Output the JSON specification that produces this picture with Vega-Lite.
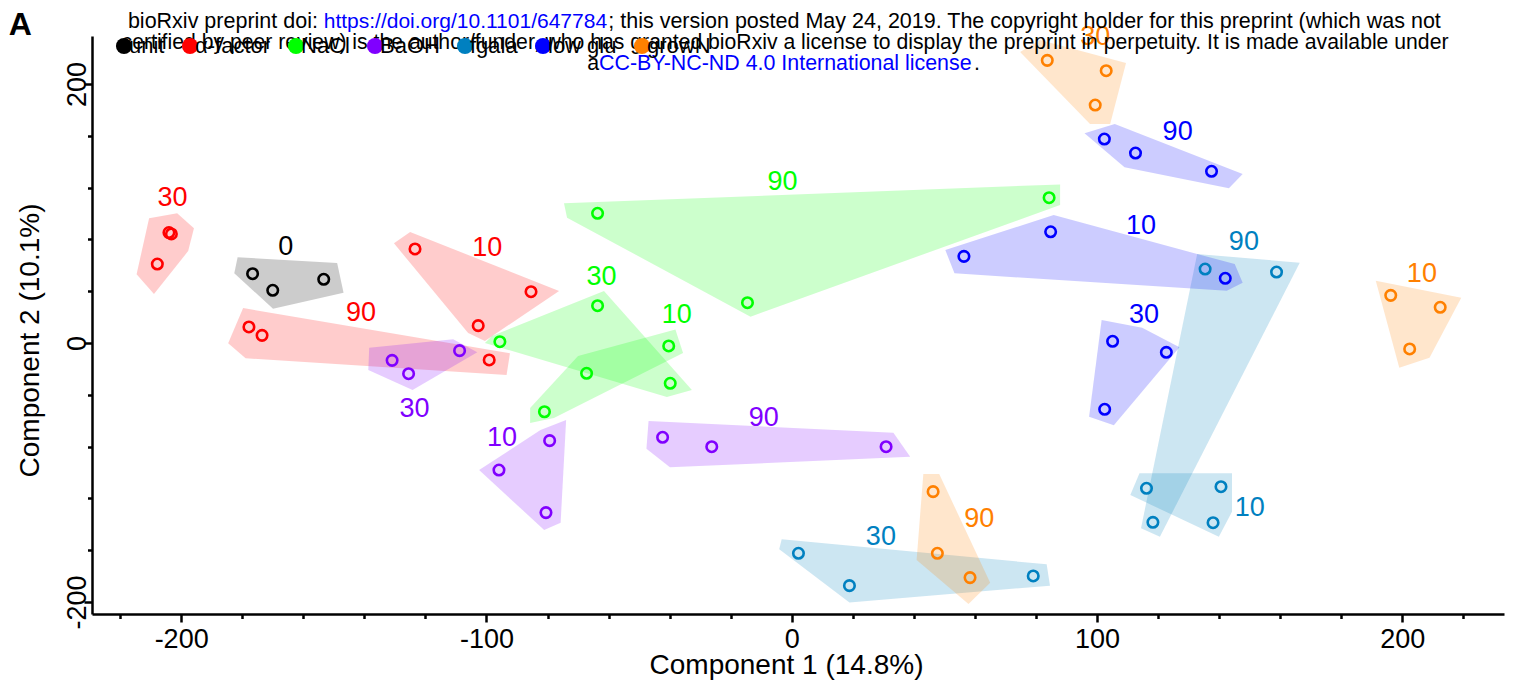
{
  "$schema": "https://vega.github.io/schema/vega-lite/v6.json",
  "autosize": "none",
  "width": 1412,
  "height": 578,
  "padding": {"left": 92, "top": 36, "right": 13, "bottom": 73},
  "background": "white",
  "config": {
    "view": {"stroke": null},
    "font": "Liberation Sans"
  },
  "datasets": {
    "points": [
      {"g": "unit", "t": "0", "x": -176.6, "y": 53.5},
      {"g": "unit", "t": "0", "x": -170.0, "y": 40.7},
      {"g": "unit", "t": "0", "x": -153.3, "y": 49.2},
      {"g": "α-factor", "t": "30", "x": -204.0, "y": 85.3},
      {"g": "α-factor", "t": "30", "x": -203.2, "y": 84.2},
      {"g": "α-factor", "t": "30", "x": -207.8, "y": 61.0},
      {"g": "α-factor", "t": "10", "x": -123.4, "y": 72.6},
      {"g": "α-factor", "t": "10", "x": -85.4, "y": 39.6},
      {"g": "α-factor", "t": "10", "x": -102.7, "y": 13.4},
      {"g": "α-factor", "t": "90", "x": -177.8, "y": 12.4},
      {"g": "α-factor", "t": "90", "x": -173.5, "y": 5.9},
      {"g": "α-factor", "t": "90", "x": -99.1, "y": -13.1},
      {"g": "NaCl", "t": "30", "x": -63.6, "y": 28.8},
      {"g": "NaCl", "t": "30", "x": -95.6, "y": 1.0},
      {"g": "NaCl", "t": "30", "x": -39.8, "y": -31.1},
      {"g": "NaCl", "t": "10", "x": -40.3, "y": -2.3},
      {"g": "NaCl", "t": "10", "x": -67.2, "y": -23.4},
      {"g": "NaCl", "t": "10", "x": -81.0, "y": -53.1},
      {"g": "NaCl", "t": "90", "x": -63.6, "y": 100.2},
      {"g": "NaCl", "t": "90", "x": -14.5, "y": 31.1},
      {"g": "NaCl", "t": "90", "x": 84.3, "y": 112.2},
      {"g": "BaOH", "t": "30", "x": -130.9, "y": -13.4},
      {"g": "BaOH", "t": "30", "x": -125.5, "y": -23.7},
      {"g": "BaOH", "t": "30", "x": -108.8, "y": -5.9},
      {"g": "BaOH", "t": "10", "x": -79.3, "y": -75.4},
      {"g": "BaOH", "t": "10", "x": -95.9, "y": -98.1},
      {"g": "BaOH", "t": "10", "x": -80.5, "y": -131.0},
      {"g": "BaOH", "t": "90", "x": -42.3, "y": -72.8},
      {"g": "BaOH", "t": "90", "x": -26.2, "y": -80.1},
      {"g": "BaOH", "t": "90", "x": 30.9, "y": -80.1},
      {"g": "fgala", "t": "30", "x": 2.2, "y": -162.4},
      {"g": "fgala", "t": "30", "x": 18.9, "y": -187.4},
      {"g": "fgala", "t": "30", "x": 79.1, "y": -179.9},
      {"g": "fgala", "t": "10", "x": 116.2, "y": -112.2},
      {"g": "fgala", "t": "10", "x": 140.6, "y": -111.0},
      {"g": "fgala", "t": "10", "x": 138.0, "y": -138.8},
      {"g": "fgala", "t": "90", "x": 135.4, "y": 57.1},
      {"g": "fgala", "t": "90", "x": 158.8, "y": 54.8},
      {"g": "fgala", "t": "90", "x": 118.3, "y": -138.5},
      {"g": "low glu", "t": "10", "x": 84.8, "y": 85.9},
      {"g": "low glu", "t": "10", "x": 56.4, "y": 66.9},
      {"g": "low glu", "t": "10", "x": 142.0, "y": 50.0},
      {"g": "low glu", "t": "30", "x": 105.1, "y": 1.3},
      {"g": "low glu", "t": "30", "x": 122.7, "y": -7.2},
      {"g": "low glu", "t": "30", "x": 102.5, "y": -51.2},
      {"g": "low glu", "t": "90", "x": 102.4, "y": 157.5},
      {"g": "low glu", "t": "90", "x": 112.6, "y": 146.7},
      {"g": "low glu", "t": "90", "x": 137.5, "y": 132.6},
      {"g": "growN", "t": "10", "x": 196.2, "y": 36.8},
      {"g": "growN", "t": "10", "x": 212.4, "y": 27.6},
      {"g": "growN", "t": "10", "x": 202.4, "y": -4.6},
      {"g": "growN", "t": "30", "x": 83.7, "y": 218.3},
      {"g": "growN", "t": "30", "x": 103.0, "y": 210.3},
      {"g": "growN", "t": "30", "x": 99.4, "y": 183.8},
      {"g": "growN", "t": "90", "x": 46.3, "y": -114.8},
      {"g": "growN", "t": "90", "x": 47.7, "y": -162.4},
      {"g": "growN", "t": "90", "x": 58.4, "y": -181.2}
    ],
    "hulls": [
      {"g": "unit", "t": "0", "i": 0, "x": -181.5, "y": 66.2},
      {"g": "unit", "t": "0", "i": 1, "x": -148.9, "y": 61.8},
      {"g": "unit", "t": "0", "i": 2, "x": -146.8, "y": 38.8},
      {"g": "unit", "t": "0", "i": 3, "x": -169.9, "y": 26.5},
      {"g": "unit", "t": "0", "i": 4, "x": -182.6, "y": 53.8},
      {"g": "α-factor", "t": "30", "i": 0, "x": -210.5, "y": 96.3},
      {"g": "α-factor", "t": "30", "i": 1, "x": -201.3, "y": 100.2},
      {"g": "α-factor", "t": "30", "i": 2, "x": -195.8, "y": 88.6},
      {"g": "α-factor", "t": "30", "i": 3, "x": -197.7, "y": 71.0},
      {"g": "α-factor", "t": "30", "i": 4, "x": -208.9, "y": 37.8},
      {"g": "α-factor", "t": "30", "i": 5, "x": -214.6, "y": 53.1},
      {"g": "α-factor", "t": "10", "i": 0, "x": -130.3, "y": 77.0},
      {"g": "α-factor", "t": "10", "i": 1, "x": -125.0, "y": 85.7},
      {"g": "α-factor", "t": "10", "i": 2, "x": -76.2, "y": 40.2},
      {"g": "α-factor", "t": "10", "i": 3, "x": -100.5, "y": 1.5},
      {"g": "α-factor", "t": "10", "i": 4, "x": -106.0, "y": 7.7},
      {"g": "α-factor", "t": "90", "i": 0, "x": -179.7, "y": 27.0},
      {"g": "α-factor", "t": "90", "i": 1, "x": -92.3, "y": -8.0},
      {"g": "α-factor", "t": "90", "i": 2, "x": -93.4, "y": -24.7},
      {"g": "α-factor", "t": "90", "i": 3, "x": -178.9, "y": -11.8},
      {"g": "α-factor", "t": "90", "i": 4, "x": -184.6, "y": -0.2},
      {"g": "NaCl", "t": "30", "i": 0, "x": -61.5, "y": 40.2},
      {"g": "NaCl", "t": "30", "i": 1, "x": -32.7, "y": -36.3},
      {"g": "NaCl", "t": "30", "i": 2, "x": -40.9, "y": -41.7},
      {"g": "NaCl", "t": "30", "i": 3, "x": -100.5, "y": 0.0},
      {"g": "NaCl", "t": "30", "i": 4, "x": -98.2, "y": 5.4},
      {"g": "NaCl", "t": "10", "i": 0, "x": -38.1, "y": 10.4},
      {"g": "NaCl", "t": "10", "i": 1, "x": -35.6, "y": -7.7},
      {"g": "NaCl", "t": "10", "i": 2, "x": -77.9, "y": -57.9},
      {"g": "NaCl", "t": "10", "i": 3, "x": -85.7, "y": -61.8},
      {"g": "NaCl", "t": "10", "i": 4, "x": -85.7, "y": -50.2},
      {"g": "NaCl", "t": "10", "i": 5, "x": -70.0, "y": -10.0},
      {"g": "NaCl", "t": "90", "i": 0, "x": -74.6, "y": 107.9},
      {"g": "NaCl", "t": "90", "i": 1, "x": 87.9, "y": 122.5},
      {"g": "NaCl", "t": "90", "i": 2, "x": 87.9, "y": 106.6},
      {"g": "NaCl", "t": "90", "i": 3, "x": -13.5, "y": 20.3},
      {"g": "NaCl", "t": "90", "i": 4, "x": -73.6, "y": 96.8},
      {"g": "BaOH", "t": "30", "i": 0, "x": -138.4, "y": -3.6},
      {"g": "BaOH", "t": "30", "i": 1, "x": -110.9, "y": 2.9},
      {"g": "BaOH", "t": "30", "i": 2, "x": -103.0, "y": -7.2},
      {"g": "BaOH", "t": "30", "i": 3, "x": -124.2, "y": -36.3},
      {"g": "BaOH", "t": "30", "i": 4, "x": -138.7, "y": -20.8},
      {"g": "BaOH", "t": "10", "i": 0, "x": -73.9, "y": -59.5},
      {"g": "BaOH", "t": "10", "i": 1, "x": -75.7, "y": -138.8},
      {"g": "BaOH", "t": "10", "i": 2, "x": -81.1, "y": -144.4},
      {"g": "BaOH", "t": "10", "i": 3, "x": -102.4, "y": -98.1},
      {"g": "BaOH", "t": "10", "i": 4, "x": -82.3, "y": -67.2},
      {"g": "BaOH", "t": "90", "i": 0, "x": -46.9, "y": -60.2},
      {"g": "BaOH", "t": "90", "i": 1, "x": 33.3, "y": -69.3},
      {"g": "BaOH", "t": "90", "i": 2, "x": 38.8, "y": -87.8},
      {"g": "BaOH", "t": "90", "i": 3, "x": -39.9, "y": -96.0},
      {"g": "BaOH", "t": "90", "i": 4, "x": -47.6, "y": -81.6},
      {"g": "fgala", "t": "30", "i": 0, "x": -3.3, "y": -151.6},
      {"g": "fgala", "t": "30", "i": 1, "x": 83.5, "y": -170.9},
      {"g": "fgala", "t": "30", "i": 2, "x": 84.6, "y": -187.4},
      {"g": "fgala", "t": "30", "i": 3, "x": 18.9, "y": -200.5},
      {"g": "fgala", "t": "30", "i": 4, "x": -4.1, "y": -159.3},
      {"g": "fgala", "t": "10", "i": 0, "x": 113.9, "y": -100.6},
      {"g": "fgala", "t": "10", "i": 1, "x": 144.2, "y": -100.6},
      {"g": "fgala", "t": "10", "i": 2, "x": 144.2, "y": -130.3},
      {"g": "fgala", "t": "10", "i": 3, "x": 139.9, "y": -149.6},
      {"g": "fgala", "t": "10", "i": 4, "x": 110.9, "y": -117.4},
      {"g": "fgala", "t": "90", "i": 0, "x": 132.8, "y": 68.7},
      {"g": "fgala", "t": "90", "i": 1, "x": 166.4, "y": 62.0},
      {"g": "fgala", "t": "90", "i": 2, "x": 120.6, "y": -149.6},
      {"g": "fgala", "t": "90", "i": 3, "x": 114.4, "y": -143.1},
      {"g": "low glu", "t": "10", "i": 0, "x": 85.8, "y": 98.8},
      {"g": "low glu", "t": "10", "i": 1, "x": 132.8, "y": 68.7},
      {"g": "low glu", "t": "10", "i": 2, "x": 145.1, "y": 61.0},
      {"g": "low glu", "t": "10", "i": 3, "x": 147.7, "y": 46.6},
      {"g": "low glu", "t": "10", "i": 4, "x": 142.5, "y": 40.4},
      {"g": "low glu", "t": "10", "i": 5, "x": 53.3, "y": 53.8},
      {"g": "low glu", "t": "10", "i": 6, "x": 50.3, "y": 71.8},
      {"g": "low glu", "t": "30", "i": 0, "x": 101.5, "y": 17.8},
      {"g": "low glu", "t": "30", "i": 1, "x": 114.8, "y": 11.8},
      {"g": "low glu", "t": "30", "i": 2, "x": 127.0, "y": -3.3},
      {"g": "low glu", "t": "30", "i": 3, "x": 105.5, "y": -63.6},
      {"g": "low glu", "t": "30", "i": 4, "x": 97.4, "y": -56.9},
      {"g": "low glu", "t": "90", "i": 0, "x": 105.8, "y": 169.1},
      {"g": "low glu", "t": "90", "i": 1, "x": 147.7, "y": 130.5},
      {"g": "low glu", "t": "90", "i": 2, "x": 143.2, "y": 119.5},
      {"g": "low glu", "t": "90", "i": 3, "x": 109.0, "y": 135.7},
      {"g": "low glu", "t": "90", "i": 4, "x": 95.9, "y": 161.9},
      {"g": "growN", "t": "10", "i": 0, "x": 191.3, "y": 48.1},
      {"g": "growN", "t": "10", "i": 1, "x": 219.3, "y": 35.0},
      {"g": "growN", "t": "10", "i": 2, "x": 208.9, "y": -11.4},
      {"g": "growN", "t": "10", "i": 3, "x": 199.0, "y": -19.1},
      {"g": "growN", "t": "30", "i": 0, "x": 74.8, "y": 224.7},
      {"g": "growN", "t": "30", "i": 1, "x": 81.3, "y": 234.0},
      {"g": "growN", "t": "30", "i": 2, "x": 109.5, "y": 216.2},
      {"g": "growN", "t": "30", "i": 3, "x": 104.3, "y": 169.1},
      {"g": "growN", "t": "30", "i": 4, "x": 97.7, "y": 169.1},
      {"g": "growN", "t": "90", "i": 0, "x": 43.1, "y": -101.2},
      {"g": "growN", "t": "90", "i": 1, "x": 48.3, "y": -101.2},
      {"g": "growN", "t": "90", "i": 2, "x": 65.0, "y": -185.1},
      {"g": "growN", "t": "90", "i": 3, "x": 57.9, "y": -201.5},
      {"g": "growN", "t": "90", "i": 4, "x": 40.9, "y": -167.6}
    ],
    "labels": [
      {"g": "unit", "t": "0", "x": -165.7, "y": 74.5},
      {"g": "α-factor", "t": "30", "x": -202.8, "y": 112.3},
      {"g": "α-factor", "t": "10", "x": -99.7, "y": 73.7},
      {"g": "α-factor", "t": "90", "x": -141.1, "y": 23.5},
      {"g": "NaCl", "t": "30", "x": -62.3, "y": 51.3},
      {"g": "NaCl", "t": "10", "x": -37.7, "y": 21.7},
      {"g": "NaCl", "t": "90", "x": -3.0, "y": 124.1},
      {"g": "BaOH", "t": "30", "x": -123.6, "y": -50.9},
      {"g": "BaOH", "t": "10", "x": -94.9, "y": -73.0},
      {"g": "BaOH", "t": "90", "x": -9.2, "y": -57.6},
      {"g": "fgala", "t": "30", "x": 29.2, "y": -149.5},
      {"g": "fgala", "t": "10", "x": 150.0, "y": -127.6},
      {"g": "fgala", "t": "90", "x": 148.1, "y": 78.3},
      {"g": "low glu", "t": "10", "x": 114.4, "y": 90.7},
      {"g": "low glu", "t": "30", "x": 115.4, "y": 21.7},
      {"g": "low glu", "t": "90", "x": 126.4, "y": 163.3},
      {"g": "growN", "t": "10", "x": 206.4, "y": 53.1},
      {"g": "growN", "t": "30", "x": 99.4, "y": 236.6},
      {"g": "growN", "t": "90", "x": 61.4, "y": -135.8}
    ],
    "one": [{}]
  },
  "layer": [
    {
      "data": {"name": "hulls"},
      "mark": {"type": "line", "interpolate": "linear-closed", "strokeWidth": 0, "fillOpacity": 0.2},
      "encoding": {
        "x": {"field": "x", "type": "quantitative"},
        "y": {"field": "y", "type": "quantitative"},
        "fill": {
          "field": "g",
          "type": "nominal",
          "scale": {
            "domain": ["unit", "α-factor", "NaCl", "BaOH", "fgala", "low glu", "growN"],
            "range": ["#000000", "#FF0000", "#00FF00", "#8000FF", "#0080C0", "#0000FF", "#FF8000"]
          },
          "legend": {
            "orient": "none",
            "legendX": 21,
            "legendY": -1,
            "direction": "horizontal",
            "title": null,
            "symbolType": "circle",
            "symbolSize": 260,
            "symbolOpacity": 1,
            "symbolStrokeWidth": 0,
            "labelFont": "Liberation Sans",
            "labelFontSize": 22,
            "labelColor": "black",
            "labelOffset": -6,
            "columnPadding": 14
          }
        },
        "detail": {"field": "t"},
        "order": {"field": "i", "type": "quantitative"}
      }
    },
    {
      "data": {"name": "points"},
      "mark": {"type": "point", "shape": "circle", "filled": false, "size": 110, "strokeWidth": 2.6, "opacity": 1},
      "encoding": {
        "x": {
          "field": "x",
          "type": "quantitative",
          "scale": {"domain": [-229.2, 233.3], "nice": false, "zero": false},
          "axis": {
            "title": "Component 1 (14.8%)",
            "values": [-220, -210, -200, -190, -180, -170, -160, -150, -140, -130, -120, -110, -100, -90, -80, -70, -60, -50, -40, -30, -20, -10, 0, 10, 20, 30, 40, 50, 60, 70, 80, 90, 100, 110, 120, 130, 140, 150, 160, 170, 180, 190, 200, 210, 220, 230],
            "labelExpr": "datum.value % 50 === 0 ? '' + datum.value : ''",
            "grid": false,
            "domainColor": "black",
            "domainWidth": 2.5,
            "tickColor": "black",
            "tickWidth": 2.5,
            "tickSize": {"condition": {"test": "datum.value % 50 === 0", "value": 8}, "value": 4.5},
            "labelFont": "Liberation Sans",
            "labelFontSize": 27,
            "labelColor": "black",
            "labelBaseline": "alphabetic",
            "labelPadding": 25,
            "labelOverlap": false,
            "labelFlush": false,
            "titleFont": "Liberation Sans",
            "titleFontSize": 28,
            "titleFontWeight": "normal",
            "titleColor": "black",
            "titleBaseline": "alphabetic",
            "titleAlign": "center",
            "titleX": 694,
            "titleY": 59
          }
        },
        "y": {
          "field": "y",
          "type": "quantitative",
          "scale": {"domain": [-209.3, 237.1], "nice": false, "zero": false},
          "axis": {
            "title": "Component 2 (10.1%)",
            "values": [-200, -190, -180, -170, -160, -150, -140, -130, -120, -110, -100, -90, -80, -70, -60, -50, -40, -30, -20, -10, 0, 10, 20, 30, 40, 50, 60, 70, 80, 90, 100, 110, 120, 130, 140, 150, 160, 170, 180, 190, 200, 210, 220, 230],
            "labelExpr": "datum.value % 100 === 0 ? '' + datum.value : ''",
            "grid": false,
            "domainColor": "black",
            "domainWidth": 2.5,
            "tickColor": "black",
            "tickWidth": 2.5,
            "tickSize": {"condition": {"test": "datum.value % 100 === 0", "value": 8}, "value": 4.5},
            "labelFont": "Liberation Sans",
            "labelFontSize": 27,
            "labelColor": "black",
            "labelAngle": -90,
            "labelAlign": "center",
            "labelBaseline": "alphabetic",
            "labelPadding": -1,
            "labelOverlap": false,
            "labelFlush": false,
            "titleFont": "Liberation Sans",
            "titleFontSize": 28,
            "titleFontWeight": "normal",
            "titleColor": "black",
            "titleAngle": -90,
            "titleBaseline": "alphabetic",
            "titleAlign": "center",
            "titleX": -54,
            "titleY": 304
          }
        },
        "stroke": {
          "field": "g",
          "type": "nominal",
          "scale": {
            "domain": ["unit", "α-factor", "NaCl", "BaOH", "fgala", "low glu", "growN"],
            "range": ["#000000", "#FF0000", "#00FF00", "#8000FF", "#0080C0", "#0000FF", "#FF8000"]
          },
          "legend": null
        }
      }
    },
    {
      "data": {"name": "labels"},
      "mark": {"type": "text", "font": "Liberation Sans", "fontSize": 27, "align": "center", "baseline": "middle"},
      "encoding": {
        "x": {"field": "x", "type": "quantitative"},
        "y": {"field": "y", "type": "quantitative"},
        "text": {"field": "t"},
        "fill": {"field": "g", "type": "nominal"}
      }
    },
    {
      "data": {"name": "one"},
      "mark": {"type": "text", "font": "Liberation Sans", "fontSize": 32, "fontWeight": "bold", "align": "left", "baseline": "alphabetic", "color": "black"},
      "encoding": {"x": {"datum": -256.5}, "y": {"datum": 237.8}, "text": {"value": "A"}}
    },
    {
      "data": {"name": "one"},
      "mark": {"type": "text", "font": "Liberation Sans", "fontSize": 21.5, "align": "right", "baseline": "alphabetic", "color": "black"},
      "encoding": {"x": {"datum": -155.2}, "y": {"datum": 243.2}, "text": {"value": "bioRxiv preprint doi:"}}
    },
    {
      "data": {"name": "one"},
      "mark": {"type": "text", "font": "Liberation Sans", "fontSize": 21, "align": "left", "baseline": "alphabetic", "color": "#0000FF"},
      "encoding": {"x": {"datum": -153.3}, "y": {"datum": 243.2}, "text": {"value": "https://doi.org/10.1101/647784"}}
    },
    {
      "data": {"name": "one"},
      "mark": {"type": "text", "font": "Liberation Sans", "fontSize": 21.5, "align": "left", "baseline": "alphabetic", "color": "black"},
      "encoding": {"x": {"datum": -60.1}, "y": {"datum": 243.2}, "text": {"value": "; this version posted May 24, 2019. The copyright holder for this preprint (which was not"}}
    },
    {
      "data": {"name": "one"},
      "mark": {"type": "text", "font": "Liberation Sans", "fontSize": 21.2, "align": "center", "baseline": "alphabetic", "color": "black"},
      "encoding": {"x": {"datum": -2.2}, "y": {"datum": 227.0}, "text": {"value": "certified by peer review) is the author/funder, who has granted bioRxiv a license to display the preprint in perpetuity. It is made available under"}}
    },
    {
      "data": {"name": "one"},
      "mark": {"type": "text", "font": "Liberation Sans", "fontSize": 21.4, "align": "right", "baseline": "alphabetic", "color": "black"},
      "encoding": {"x": {"datum": -63.1}, "y": {"datum": 210.8}, "text": {"value": "a"}}
    },
    {
      "data": {"name": "one"},
      "mark": {"type": "text", "font": "Liberation Sans", "fontSize": 21.4, "align": "left", "baseline": "alphabetic", "color": "#0000FF"},
      "encoding": {"x": {"datum": -63.1}, "y": {"datum": 210.8}, "text": {"value": "CC-BY-NC-ND 4.0 International license"}}
    },
    {
      "data": {"name": "one"},
      "mark": {"type": "text", "font": "Liberation Sans", "fontSize": 21.4, "align": "left", "baseline": "alphabetic", "color": "black"},
      "encoding": {"x": {"datum": 59.7}, "y": {"datum": 210.8}, "text": {"value": "."}}
    }
  ]
}
